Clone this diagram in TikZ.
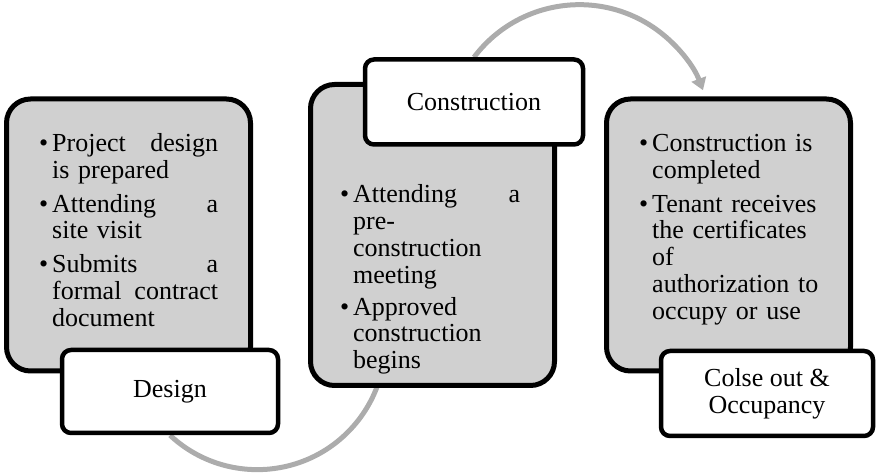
\documentclass[tikz,border=0pt]{standalone}
\usepackage{fontspec}
\setmainfont{Liberation Serif}
\usetikzlibrary{positioning,calc,backgrounds,arrows.meta}
\definecolor{boxgray}{RGB}{208,208,208}
\definecolor{arcgray}{RGB}{172,172,172}
\newcommand{\bul}{\leavevmode\llap{\textbullet\hspace{4pt}}}

\begin{document}
\begin{tikzpicture}[x=1pt,y=1pt,
			stagebox/.style={
				draw,
				line width=5pt,
				rounded corners=24pt,
				fill=boxgray,
				minimum width=244pt,
				minimum height=272pt
			},
			stagelabel/.style={
				draw,
				line width=4.5pt,
				rounded corners=9pt,
				fill=white,
				minimum width=216pt,
				minimum height=83pt,
				align=center,
				font=\fontsize{26}{27}\selectfont
			},
			bullets/.style={
				anchor=base west,
				text width=#1,
				align=left,
				inner sep=0pt,
				font=\fontsize{26}{26.8}\selectfont
			},
			flow/.style={
				draw=arcgray,
				line width=5pt
			}
			]
			\useasboundingbox (0,0) rectangle (880,476);
			\node[stagebox] (b1) at (128.5,241) {};
			\node[stagebox, minimum height=301pt, right=55pt of b1] (b2) {};
			\node[stagebox, right=47pt of b2] (b3) {};
			\node[bullets=166pt] (t1) at ([shift={(48,-55)}]b1.north west) {\bul Project\hfill design\\
				is prepared\\[7pt]
				\bul Attending\hfill a\\
				site visit\\[7pt]
				\bul Submits\hfill a\\
				formal\hfill contract\\
				document};
			\node[bullets=167pt] (t2) at ([shift={(45,-121)}]b2.north west) {\bul Attending\hfill a\\
				pre-\\
				construction\\
				meeting\\[5pt]
				\bul Approved\\
				construction\\
				begins};
			\node[bullets=176pt] (t3) at ([shift={(48,-55)}]b3.north west) {\bul Construction is\\
				completed\\[7pt]
				\bul Tenant receives\\
				the certificates\\
				of\\
				authorization to\\
				occupy or use};
			\node[stagelabel] (design) at ([shift={(-83,-18)}]b1.south east) {Design};
			\node[stagelabel, minimum width=218pt, minimum height=85pt] (construction) at ([shift={(-83,-20)}]b2.north east) {Construction};
			\node[stagelabel, minimum width=212pt, minimum height=85pt] (closeout) at ([shift={(-86,-20)}]b3.south east) {Colse out \&\\Occupancy};
			\begin{scope}[on background layer]
				\draw[flow] (design.south) arc[start angle=-133, end angle=-15, radius=128];
				\draw[flow, -{Triangle[length=12pt,width=15pt]}] (construction.north) arc[start angle=143, end angle=20.6, radius=132];
			\end{scope}
		\end{tikzpicture}
\end{document}
